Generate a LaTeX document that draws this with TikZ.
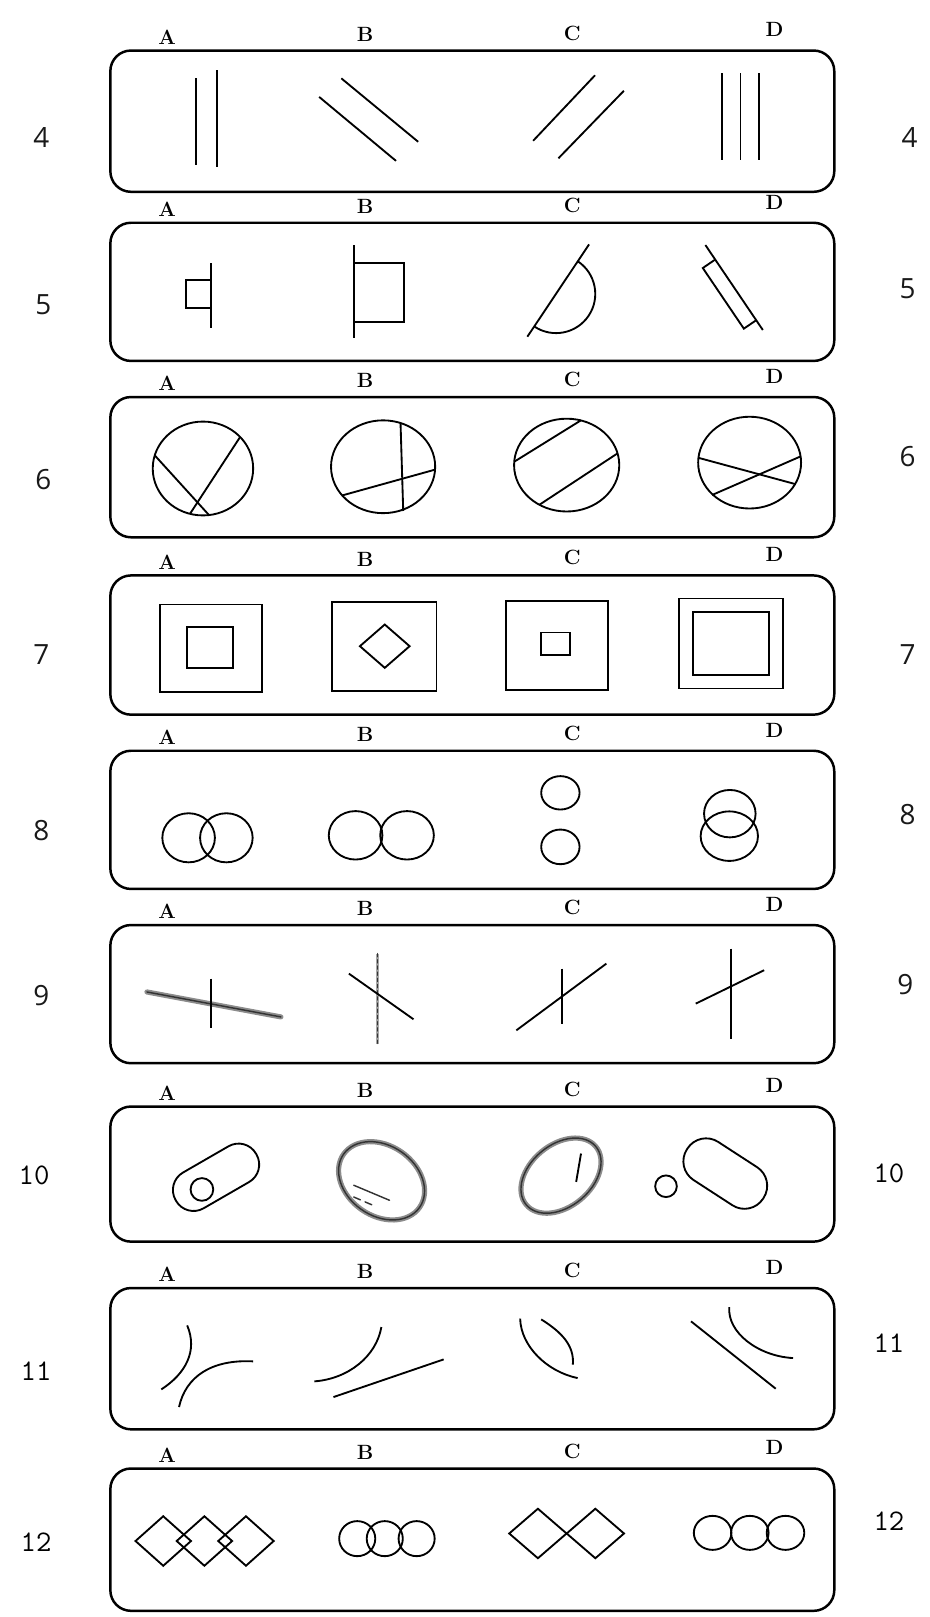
\documentclass[tikz,border=0pt]{standalone}
\usepackage{fontspec}
\newfontfamily\numsans{Open Sans}
\newcommand\rowletters[2]{%
  \node[lett] (A#1) at (162,#2-13) {A};
  \node[lett] (B#1) at (354,#2-16) {B};
  \node[lett] (C#1) at (555,#2-17) {C};
  \node[lett] (D#1) at (751,#2-20) {D};}
\newcommand\mydia[4]{\draw[fig] (#1-#3,#2) -- (#1,#2-#4) -- (#1+#3,#2) -- (#1,#2+#4) -- cycle;}
\begin{document}
\begin{tikzpicture}[x=1pt,y=-1pt,
  frame/.style={line width=2.4pt, rounded corners=20pt},
  fig/.style={line width=1.8pt},
  lett/.style={font=\fontsize{20}{20}\selectfont\bfseries, inner sep=0pt},
  numa/.style={font=\numsans\fontsize{27}{27}\selectfont, text=black!90, inner sep=0pt},
  numb/.style={font=\ttfamily\fontsize{29}{29}\selectfont, text=black, inner sep=0pt},
  smudge/.style={line width=5pt, black!45, line cap=round, line join=round},
  core/.style={line width=1.4pt, black!80, line cap=round}]
\useasboundingbox (0,0) rectangle (901,1568);

% ---------- frames ----------
\draw[frame] (107,49) rectangle (809,186);
\draw[frame] (107,216) rectangle (809,350);
\draw[frame] (107,385) rectangle (809,521);
\draw[frame] (107,558) rectangle (809,693);
\draw[frame] (107,728) rectangle (809,862);
\draw[frame] (107,897) rectangle (809,1031);
\draw[frame] (107,1073) rectangle (809,1204);
\draw[frame] (107,1249) rectangle (809,1386);
\draw[frame] (107,1424) rectangle (809,1562);

% ---------- letters ----------
\rowletters{4}{49}
\rowletters{5}{216}
\rowletters{6}{385}
\rowletters{7}{558}
\rowletters{8}{728}
\rowletters{9}{897}
\rowletters{10}{1073}
\rowletters{11}{1249}
\rowletters{12}{1424}

% ---------- row numbers ----------
\node[numa] (l4) at (40,133) {4};
\node[numa] (l5) at (42,295) {5};
\node[numa] (l6) at (42,465) {6};
\node[numa] (l7) at (40,635) {7};
\node[numa] (l8) at (40,805) {8};
\node[numa] (l9) at (40,965) {9};
\node[numb] (l10) at (33,1140) {10};
\node[numb] (l11) at (35,1330) {11};
\node[numb] (l12) at (35,1495) {12};
\node[numa] (r4) at (882,133) {4};
\node[numa] (r5) at (880,280) {5};
\node[numa] (r6) at (880,443) {6};
\node[numa] (r7) at (880,635) {7};
\node[numa] (r8) at (880,790) {8};
\node[numa] (r9) at (878,955) {9};
\node[numb] (r10) at (862,1138) {10};
\node[numb] (r11) at (862,1302) {11};
\node[numb] (r12) at (862,1475) {12};

% ---------- row 4 ----------
\draw[fig] (190,76) -- (190,160);
\draw[fig] (210.5,68) -- (210.5,162);
\draw[fig] (331,76) -- (405.5,137.5);
\draw[fig] (309.5,94) -- (384,156);
\draw[fig] (577,73) -- (517,136.5);
\draw[fig] (605,88) -- (541.5,153.5);
\draw[fig] (700,71) -- (700,155);
\draw[fig] (718,71) -- (718,155);
\draw[fig] (736,71) -- (736,155);

% ---------- row 5 ----------
\draw[fig] (204.7,255.4) -- (204.7,317.8);
\draw[fig] (204.7,271.5) -| (180.5,298.4) -- (204.7,298.4);
\draw[fig] (343,237.6) -- (343,328);
\draw[fig] (343,255.4) -| (391.7,312) -- (343,312);
\draw[fig] (511.4,326.5) -- (571.2,237);
\draw[fig] (560.3,253.4) arc[start angle=-56.3, end angle=123.7, radius=38];
\draw[fig] (684,237.6) -- (739.7,320);
\draw[fig] (693.5,251.7) -- (681.5,259.9) -- (721.3,318.7) -- (733.3,310.5);

% ---------- row 6 ----------
\draw[fig] (196.8,454.3) ellipse[x radius=48.7, y radius=45.5];
\draw[fig] (150,441.5) -- (202.7,499.5);
\draw[fig] (233,423.5) -- (184.2,498.3);
\draw[fig] (371.5,452.6) ellipse[x radius=50.5, y radius=45];
\draw[fig] (388.4,410.5) -- (391,495.5);
\draw[fig] (331.5,480.5) -- (421.5,455.5);
\draw[fig] (549.5,451) ellipse[x radius=51, y radius=45];
\draw[fig] (499,447.5) -- (563.5,407.5);
\draw[fig] (523,489.5) -- (599,439.5);
\draw[fig] (726.9,448.6) ellipse[x radius=49.9, y radius=44.5];
\draw[fig] (677.5,444) -- (771.5,469.5);
\draw[fig] (690.5,480) -- (776.5,442.5);

% ---------- row 7 ----------
\draw[fig] (155,586.2) rectangle (253.8,670.9);
\draw[fig] (181.5,607.8) rectangle (226,647.6);
\draw[fig] (322,583.6) rectangle (423.2,669.9);
\mydia{373.1}{626.6}{24.1}{21}
\draw[fig] (490.5,582.6) rectangle (589.8,669.2);
\draw[fig] (525,613.3) rectangle (553,635.3);
\draw[fig] (658.5,580.3) rectangle (759.6,667.6);
\draw[fig] (672.4,593.3) rectangle (745.7,654.7);

% ---------- row 8 ----------
\draw[fig] (182.9,812.4) ellipse[x radius=25.5, y radius=23.8];
\draw[fig] (219.5,812.4) ellipse[x radius=25.5, y radius=23.8];
\draw[fig] (344.8,810) ellipse[x radius=26, y radius=23.5];
\draw[fig] (394.7,810) ellipse[x radius=26, y radius=23.5];
\draw[fig] (543.4,768.8) ellipse[x radius=18.6, y radius=16.2];
\draw[fig] (543.4,821.2) ellipse[x radius=18.6, y radius=16.8];
\draw[fig] (707.7,789) ellipse[x radius=25, y radius=23];
\draw[fig] (707.2,810.8) ellipse[x radius=27.8, y radius=24];

% ---------- row 9 ----------
\draw[smudge] (142.5,961.9) -- (272.4,986.1);
\draw[core] (142.5,961.9) -- (272.4,986.1);
\draw[fig] (204.7,948.9) -- (204.7,996.8);
\draw[line width=3.5pt, black!35] (366.1,924.7) -- (366.1,1012);
\draw[core, dashed] (366.1,924.7) -- (366.1,1012);
\draw[fig] (338.3,944.1) -- (401,988.4);
\draw[fig] (544.8,939.2) -- (544.8,992.6);
\draw[fig] (500.7,999.1) -- (588,934.4);
\draw[fig] (708.6,919.8) -- (708.6,1007.1);
\draw[fig] (674.7,973.2) -- (741,940.8);

% ---------- row 10 ----------
\begin{scope}[shift={(209.5,1141.6)}, rotate=30]
  \draw[fig, rounded corners=19.5pt] (-45,-20) rectangle (45,20);
\end{scope}
\draw[fig] (195.8,1153.4) circle[radius=11];
\begin{scope}[shift={(370,1145)}, rotate=-35]
  \draw[smudge] (0,0) ellipse[x radius=45, y radius=34];
  \draw[core] (0,0) ellipse[x radius=45, y radius=34];
\end{scope}
\draw[core] (343,1149.3) -- (377.7,1163.9);
\draw[core, dash pattern=on 7pt off 5pt] (343,1160.7) -- (361.5,1168.7);
\begin{scope}[shift={(544,1140)}, rotate=40]
  \draw[smudge] (0,0) ellipse[x radius=44, y radius=30];
  \draw[core] (0,0) ellipse[x radius=44, y radius=30];
\end{scope}
\draw[fig] (563.4,1118.6) -- (558.7,1146.1);
\draw[fig] (645.8,1150.3) circle[radius=10.5];
\begin{scope}[shift={(703.3,1138)}, rotate=-33]
  \draw[fig, rounded corners=21.5pt] (-44,-22) rectangle (44,22);
\end{scope}

% ---------- row 11 ----------
\draw[fig] (181.5,1285.2) .. controls (192,1310) and (180,1332) .. (156.4,1347.3);
\draw[fig] (173.6,1364.4) .. controls (180,1335) and (205,1318) .. (245.5,1320.1);
\draw[fig] (369.8,1286.8) .. controls (365,1315) and (338,1337) .. (304.9,1339.5);
\draw[fig] (323.4,1354.7) -- (430.2,1318.2);
\draw[fig] (504.4,1278.7) .. controls (505,1305) and (530,1330) .. (560.1,1336.3);
\draw[fig] (524.8,1279.4) .. controls (545,1292) and (557,1305) .. (555.5,1323.3);
\draw[fig] (670.1,1281.3) -- (752.2,1346.6);
\draw[fig] (707.2,1267.4) .. controls (705,1292) and (735,1315) .. (769,1316.9);

% ---------- row 12 ----------
\mydia{158.3}{1494.3}{26.9}{24}
\mydia{198.2}{1494.3}{26.9}{24}
\mydia{238.5}{1494.3}{26.9}{24}
\draw[fig] (346.4,1492) ellipse[x radius=17.5, y radius=17];
\draw[fig] (373.1,1492) ellipse[x radius=17.5, y radius=17];
\draw[fig] (404,1492) ellipse[x radius=17.5, y radius=17];
\mydia{521.6}{1487}{27.8}{24}
\mydia{577.3}{1487}{27.8}{24}
\draw[fig] (691,1486.4) ellipse[x radius=18.2, y radius=16.5];
\draw[fig] (727.1,1486.4) ellipse[x radius=18.2, y radius=16.5];
\draw[fig] (761.7,1486.4) ellipse[x radius=18.2, y radius=16.5];
\end{tikzpicture}
\end{document}
